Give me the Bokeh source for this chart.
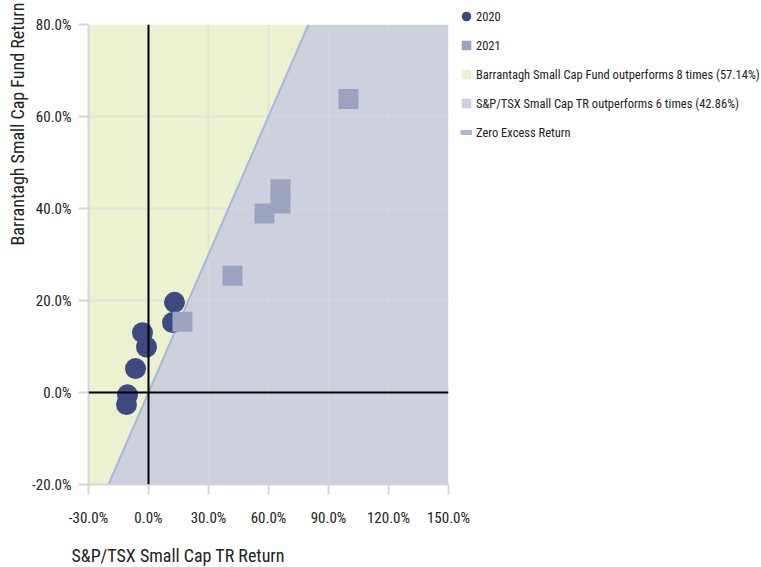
import math
from bokeh.plotting import figure
from bokeh.models import (ColumnDataSource, FixedTicker, PrintfTickFormatter, Span,
                          Legend, LegendItem, Title)
from bokeh.embed import file_html
from bokeh.resources import INLINE

# ---------------- data ----------------
x_2020 = [13.0, 12.0, -3.0, -1.0, -6.5, -10.5, -11.0]
y_2020 = [19.6, 15.2, 13.0, 9.9, 5.2, -0.5, -2.6]
x_2021 = [17.0, 100.0, 66.0, 66.0, 58.0, 42.0]
y_2021 = [15.4, 63.8, 44.2, 41.1, 38.9, 25.4]

x_ticks = [-30, 0, 30, 60, 90, 120, 150]
y_ticks = [-20, 0, 20, 40, 60, 80]
x_lo, x_hi = -30, 150
y_lo, y_hi = -20, 80

legend_labels = ["2020", "2021",
                 "Barrantagh Small Cap Fund outperforms 8 times (57.14%)",
                 "S&P/TSX Small Cap TR outperforms 6 times (42.86%)",
                 "Zero Excess Return"]

FONT = "Roboto Condensed"
TXT = "#222222"
GREEN = "#ecf1d0"
GREYBLUE = "#cdd1de"
LINEC = "#a8b7d8"
NAVY = "#3d4a80"
SQ = "#9ca3c1"

p = figure(output_backend="svg", toolbar_location=None,
           x_range=(x_lo, x_hi), y_range=(y_lo, y_hi),
           frame_width=360, frame_height=460)
p.min_border_left = 88
p.min_border_top = 24
p.min_border_right = 300
p.min_border_bottom = 60
p.outline_line_color = None
p.background_fill_color = "white"

# regions
lo = max(x_lo, y_lo)
green = p.patch([x_lo, lo, y_hi, x_lo], [y_lo, lo, y_hi, y_hi],
                fill_color=GREEN, line_color=None, level="image")
grey = p.patch([lo, x_hi, x_hi, y_hi], [y_lo, y_lo, y_hi, y_hi],
               fill_color=GREYBLUE, line_color=None, level="image")
p.line([lo, y_hi], [lo, y_hi], line_color=LINEC, line_width=2)

# grids
p.xgrid.ticker = FixedTicker(ticks=x_ticks)
p.ygrid.ticker = FixedTicker(ticks=y_ticks)
p.grid.grid_line_color = "#d9d9d9"
p.grid.grid_line_alpha = 0.5
p.grid.grid_line_width = 2

# zero lines
p.add_layout(Span(location=0, dimension="width", line_color="black", line_width=2))
p.add_layout(Span(location=0, dimension="height", line_color="black", line_width=2))

# points
p.scatter(x_2020, y_2020, marker="circle", size=21, fill_color=NAVY, line_color=None)
p.scatter(x_2021, y_2021, marker="square", size=20, fill_color=SQ, line_color=None)

# legend-only renderers (no visible data)
src0 = ColumnDataSource(dict(x=[math.nan], y=[math.nan]))
lc = p.ellipse("x", "y", source=src0, width=10, height=10, width_units="screen",
               height_units="screen", fill_color=NAVY, line_color=None)
ls = p.patch("x", "y", source=src0, fill_color=SQ, line_color=None)
lz = p.line("x", "y", source=src0, line_color=LINEC, line_width=5)

legend = Legend(items=[
    LegendItem(label=legend_labels[0], renderers=[lc]),
    LegendItem(label=legend_labels[1], renderers=[ls]),
    LegendItem(label=legend_labels[2], renderers=[green]),
    LegendItem(label=legend_labels[3], renderers=[grey]),
    LegendItem(label=legend_labels[4], renderers=[lz]),
], location=(12, 342))
legend.border_line_color = None
legend.background_fill_alpha = 0
legend.label_text_font = FONT
legend.label_text_font_size = "12.5px"
legend.label_text_color = TXT
legend.glyph_width = 12
legend.glyph_height = 12
legend.label_height = 20
legend.label_standoff = 4
legend.spacing = 9
legend.padding = 0
legend.margin = 0
p.add_layout(legend, "right")

# axes
for ax in (p.xaxis[0], p.yaxis[0]):
    ax.axis_line_color = "#d6d6d6"
    ax.axis_line_width = 2
    ax.major_tick_line_color = "#d6d6d6"
    ax.major_tick_line_width = 2
    ax.major_tick_in = 0
    ax.major_tick_out = 10
    ax.minor_tick_line_color = None
    ax.major_label_text_font = FONT
    ax.major_label_text_font_size = "15px"
    ax.major_label_text_color = TXT
    ax.formatter = PrintfTickFormatter(format="%.1f%%")
p.xaxis.ticker = FixedTicker(ticks=x_ticks)
p.yaxis.ticker = FixedTicker(ticks=y_ticks)
p.xaxis.major_label_standoff = 14
p.yaxis.major_label_standoff = 7

tx = Title(text="S&P/TSX Small Cap TR Return", align="left", offset=-17,
           text_font=FONT, text_font_size="18px", text_font_style="normal",
           text_color=TXT, standoff=27)
p.add_layout(tx, "below")
ty = Title(text="Barrantagh Small Cap Fund Return", align="right", offset=-22,
           text_font=FONT, text_font_size="18px", text_font_style="normal",
           text_color=TXT, standoff=4)
p.add_layout(ty, "left")

open("out.html", "w").write(file_html(p, INLINE))
